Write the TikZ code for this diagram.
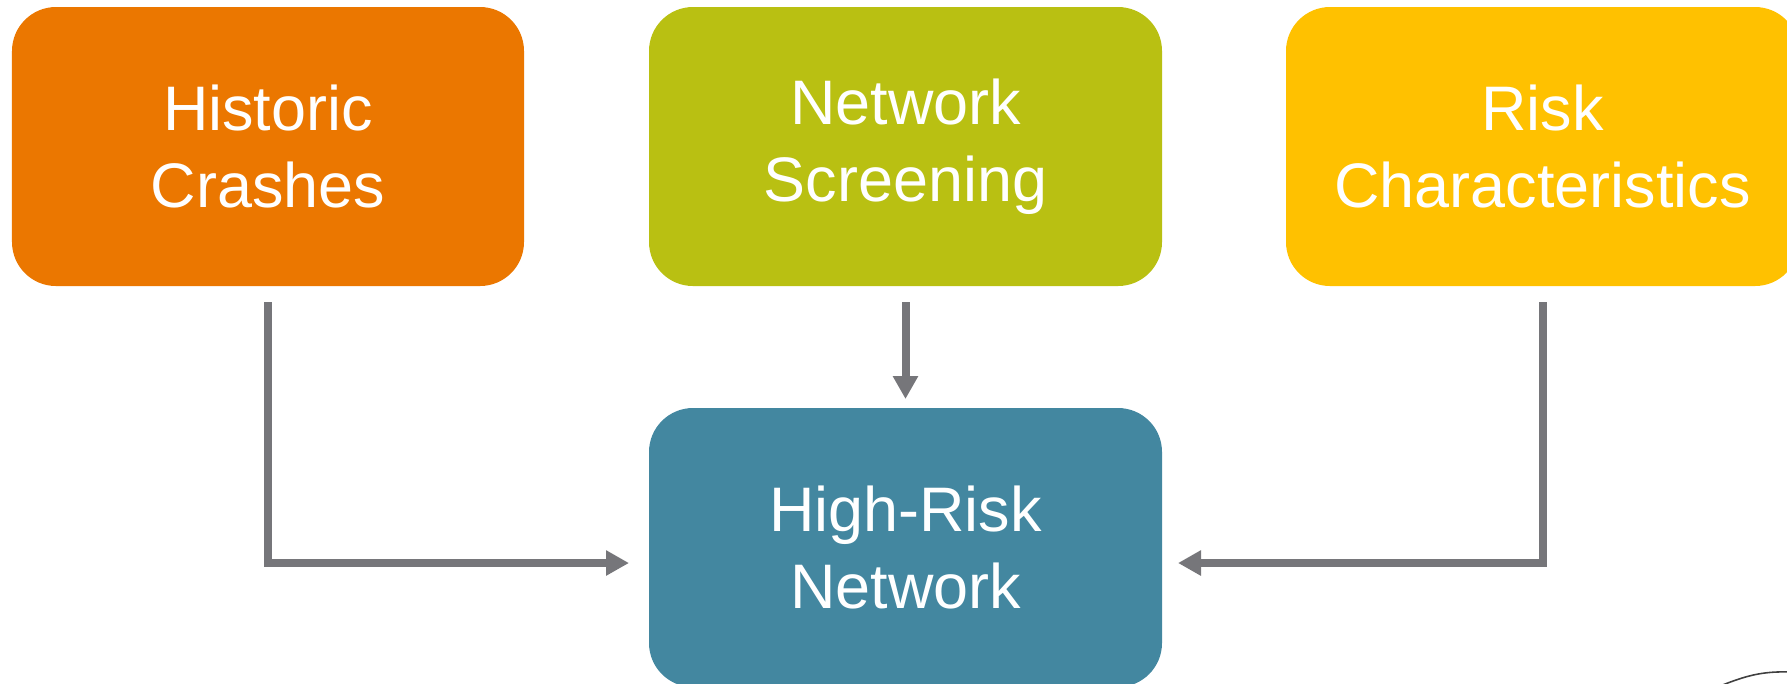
\documentclass[tikz,border=0pt]{standalone}
\usepackage{fontspec}
\setmainfont{Liberation Sans}
\usetikzlibrary{positioning,arrows.meta}

\definecolor{crashorange}{RGB}{235,119,0}
\definecolor{screengreen}{RGB}{185,192,18}
\definecolor{riskyellow}{RGB}{255,193,0}
\definecolor{networkteal}{RGB}{67,135,160}
\definecolor{linkgray}{RGB}{118,118,122}

\begin{document}
\begin{tikzpicture}[%
    text=white,
    node font=\fontsize{17.9}{21.9}\selectfont,
    box/.style={rectangle, rounded corners=0.44cm, inner sep=0, outer sep=0,
      minimum width=5.13cm, minimum height=2.79cm, align=center},
    link/.style={draw=linkgray, line width=0.08cm,
      -{Triangle[length=0.23cm,width=0.24cm]}}]

  \useasboundingbox (0,0) rectangle (17.87,-6.83);

  % --- sources ---------------------------
  \node (hist) at (2.68,-1.465) [box, fill=crashorange, minimum width=5.12cm]
        {Historic\\Crashes};
  \node (screen) [right=1.25cm of hist, box, fill=screengreen]
        {Network\\Screening};
  \node (risk) [right=1.24cm of screen, box, fill=riskyellow]
        {Risk\\Characteristics};

  % --- result ----------------------------
  \node (hrn) [below=1.22cm of screen, box, fill=networkteal]
        {High-Risk\\Network};

  \draw[link] ([yshift=-0.16cm]hist.south)
        |- ([xshift=-0.2cm,yshift=-0.155cm]hrn.west);
  \draw[link] ([yshift=-0.16cm]screen.south) -- ([yshift=0.09cm]hrn.north);
  \draw[link] ([yshift=-0.16cm]risk.south)
        |- ([xshift=0.16cm,yshift=-0.155cm]hrn.east);

  % stray stroke in the corner
  \draw[line width=0.45pt, black!75]
        (17.2,-6.86) .. controls (17.45,-6.76) and (17.62,-6.71) .. (17.9,-6.72);
\end{tikzpicture}
\end{document}
